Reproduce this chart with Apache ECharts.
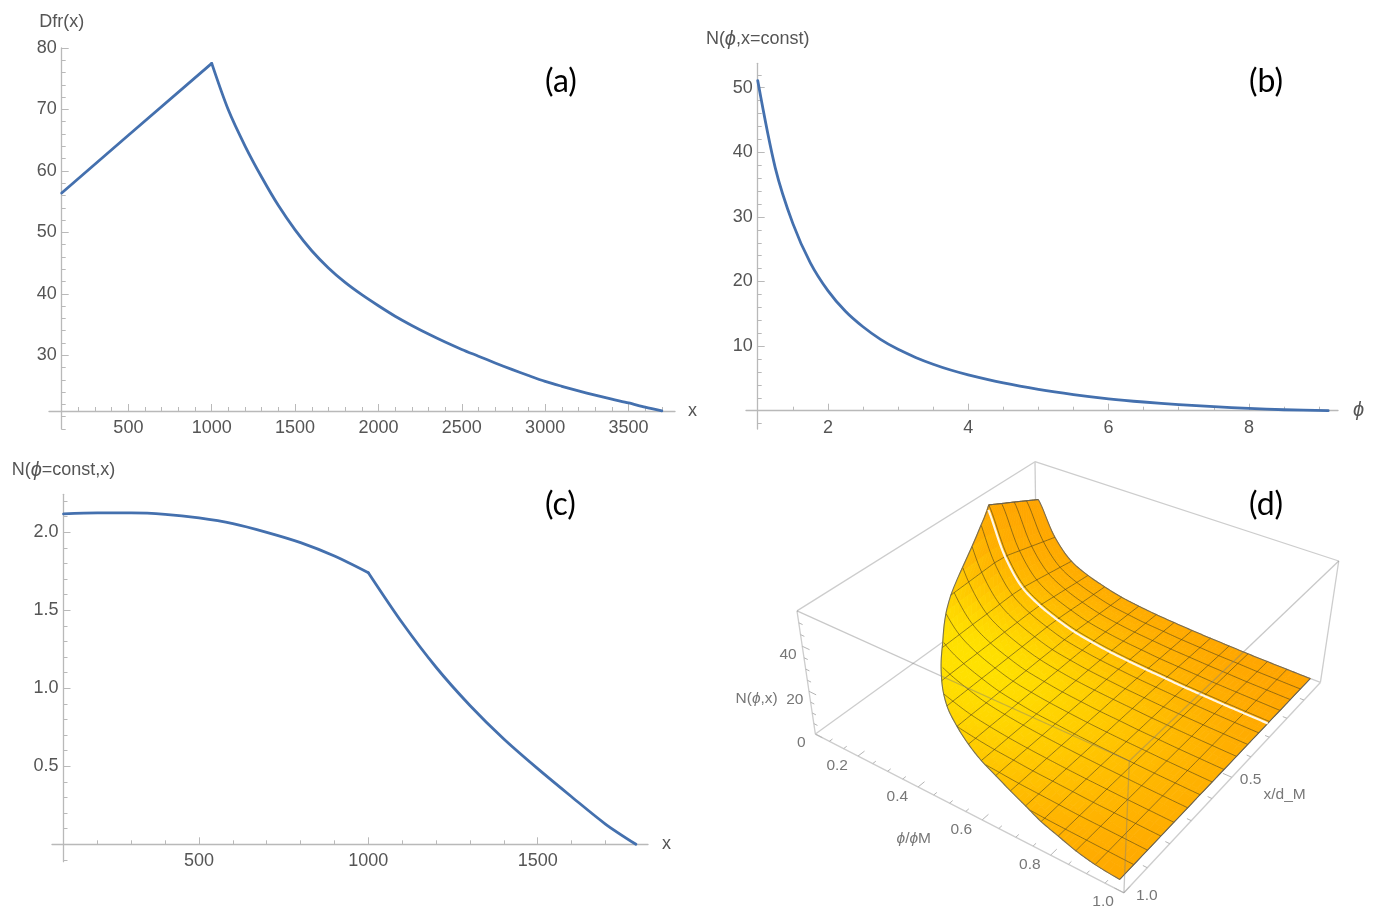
<!DOCTYPE html>
<html><head><meta charset="utf-8"><style>html,body{margin:0;padding:0;background:#fff}#c{width:1373px;height:909px}</style>
<script src="https://cdn.jsdelivr.net/npm/echarts@6/dist/echarts.min.js"></script></head>
<body><div id="c"></div>
<script>
// ---------- panel (a) ----------
const aX=[100,500,1000,1100,1200,1300,1400,1500,1600,1700,1800,1900,2000,2100,2200,2300,2400,2500,2600,2700,2800,2900,3000,3100,3200,3300,3400,3500,3600,3700];
const aY=[56.4,65.8,77.5,69.9,64.05,58.96,54.35,50.4,47.0,44.2,41.85,39.85,38.05,36.35,34.85,33.45,32.15,30.95,29.85,28.75,27.7,26.7,25.75,24.95,24.2,23.5,22.85,22.25,21.55,20.95];
const aKink=2;
const aXMajor=[500,1000,1500,2000,2500,3000,3500];
const aXMinor=[200,300,400,600,700,800,900,1100,1200,1300,1400,1600,1700,1800,1900,2100,2200,2300,2400,2600,2700,2800,2900,3100,3200,3300,3400,3600,3700];
const aYMajor=[30,40,50,60,70,80];
const aYMinor=[18,20,22,24,26,28,32,34,36,38,42,44,46,48,52,54,56,58,62,64,66,68,72,74,76,78];
// ---------- panel (b) ----------
const bX=[1,1.25,1.5,1.75,2,2.25,2.5,2.75,3,3.25,3.5,3.75,4,4.5,5,5.5,6,6.5,7,7.5,8,8.5,9.13];
const bY=[51.1,37.6,29.0,22.9,18.6,15.4,13.0,11.05,9.5,8.25,7.2,6.3,5.55,4.3,3.3,2.5,1.85,1.35,0.95,0.62,0.36,0.15,0];
const bXMajor=[2,4,6,8];
const bXMinor=[1.5,2.5,3,3.5,4.5,5,5.5,6.5,7,7.5,8.5,9];
const bYMajor=[10,20,30,40,50];
const bYMinor=[-2,2,4,6,8,12,14,16,18,22,24,26,28,32,34,36,38,42,44,46,48,52];
// ---------- panel (c) ----------
const cX=[100,200,300,400,500,600,700,800,900,1000,1100,1200,1300,1400,1500,1600,1700,1790];
const cY=[2.118,2.124,2.124,2.115,2.092,2.056,2.0,1.934,1.848,1.741,1.42,1.135,0.89,0.675,0.485,0.305,0.13,0];
const cKink=9;
const cXMajor=[500,1000,1500];
const cXMinor=[200,300,400,600,700,800,900,1100,1200,1300,1400,1600,1700];
const cYMajor=[0.5,1,1.5,2];
const cYMinor=[-0.1,0.1,0.2,0.3,0.4,0.6,0.7,0.8,0.9,1.1,1.2,1.3,1.4,1.6,1.7,1.8,1.9,2.1,2.2];
// ---------- panel (d): surface N(phi,x) ----------
const dPhi=[0.06,0.12,0.18,0.24,0.30,0.36,0.42,0.48,0.54,0.60,0.66,0.72,0.78,0.84,0.90,0.97];
const dX=[0,0.06,0.12,0.18,0.24,0.30,0.36,0.42,0.485,0.545,0.605,0.665,0.73,0.79,0.85,0.91,0.97];
const dXEdge=[0.24,0.5,0.62,0.70,0.755,0.79,0.82,0.845,0.865,0.885,0.905,0.925,0.94,0.955,0.965,0.97];
const dN=[
[37.7,40.8,43.9,46.9,50,51,50.5,50,49.5,49,48.5,47.9,47.4,46.9,46.4,45.9,45.4],
[22.2,24,25.8,27.6,29.4,30,29.7,29.4,29.1,28.8,28.5,28.2,27.9,27.6,27.3,27,26.7],
[13.3,14.4,15.5,16.6,17.6,18,17.8,17.6,17.5,17.3,17.1,16.9,16.7,16.6,16.4,16.2,16],
[9.3,10,10.8,11.5,12.3,12.5,12.4,12.3,12.1,12,11.9,11.8,11.6,11.5,11.4,11.3,11.1],
[6.7,7.2,7.7,8.3,8.8,9,8.9,8.8,8.7,8.6,8.6,8.5,8.4,8.3,8.2,8.1,8],
[4.7,5,5.4,5.8,6.2,6.3,6.2,6.2,6.1,6,6,5.9,5.9,5.8,5.7,5.7,5.6],
[3.5,3.8,4,4.3,4.6,4.7,4.7,4.6,4.6,4.5,4.5,4.4,4.4,4.3,4.3,4.2,4.2],
[2.6,2.8,3,3.2,3.4,3.5,3.5,3.4,3.4,3.4,3.3,3.3,3.3,3.2,3.2,3.2,3.1],
[2,2.2,2.3,2.5,2.6,2.7,2.7,2.6,2.6,2.6,2.6,2.5,2.5,2.5,2.5,2.4,2.4],
[1.5,1.6,1.7,1.8,2,2,2,2,1.9,1.9,1.9,1.9,1.9,1.8,1.8,1.8,1.8],
[1.1,1.2,1.3,1.4,1.5,1.5,1.5,1.5,1.5,1.4,1.4,1.4,1.4,1.4,1.4,1.4,1.3],
[0.8,0.8,0.9,1,1,1.05,1,1,1,1,1,1,1,1,1,0.9,0.9],
[0.5,0.6,0.6,0.6,0.7,0.7,0.7,0.7,0.7,0.7,0.7,0.7,0.7,0.6,0.6,0.6,0.6],
[0.3,0.3,0.3,0.4,0.4,0.4,0.4,0.4,0.4,0.4,0.4,0.4,0.4,0.4,0.4,0.4,0.4],
[0.15,0.15,0.15,0.2,0.2,0.2,0.2,0.2,0.2,0.2,0.2,0.2,0.2,0.2,0.2,0.2,0.2],
[0,0,0,0,0,0,0,0,0,0,0,0,0,0,0,0,0]];
const dWhiteX=0.25;
const dPhiMajor=[0.2,0.4,0.6,0.8,1.0], dPhiMinor=[0.1,0.15,0.25,0.3,0.35,0.45,0.5,0.55,0.65,0.7,0.75,0.85,0.9,0.95];
const dXMajor=[0.5,1.0], dXMinor=[0.1,0.2,0.3,0.4,0.6,0.7,0.8,0.9];
const dZMajor=[0,20,40], dZMinor=[5,10,15,25,30,35,45,50];
// box calibration: (phi,x,z) -> plane of the panel (hidden axes 0..1560, 0..1377)
const PHI0=0.05, ZTOP=55;
const boxCal=[
 [PHI0,0,0,755,380],[PHI0,1,0,230,850],[1,0,0,1445,690],[1,1,0,970,1330],
 [PHI0,0,55,760,30],[PHI0,1,55,185,482],[1,0,55,1482,338],[1,1,55,980,935]];

// ---- projection fit (least squares, 11 unknowns)
function fitProj(){
  const A=[],b=[];
  boxCal.forEach(([p,x,z,u,v])=>{
    const X=(p-PHI0)/(1-PHI0),Y=x,Z=z/ZTOP;
    A.push([X,Y,Z,1,0,0,0,0,-u*X,-u*Y,-u*Z]);b.push(u);
    A.push([0,0,0,0,X,Y,Z,1,-v*X,-v*Y,-v*Z]);b.push(v);
  });
  const n=11,M=[];
  for(let i=0;i<n;i++){M[i]=[];for(let j=0;j<n;j++){let s=0;A.forEach(r=>s+=r[i]*r[j]);M[i][j]=s;}
    let s=0;A.forEach((r,k)=>s+=r[i]*b[k]);M[i][n]=s;}
  for(let i=0;i<n;i++){let m=i;for(let k=i+1;k<n;k++)if(Math.abs(M[k][i])>Math.abs(M[m][i]))m=k;
    [M[i],M[m]]=[M[m],M[i]];
    for(let k=0;k<n;k++)if(k!==i){const f=M[k][i]/M[i][i];for(let j=i;j<=n;j++)M[k][j]-=f*M[i][j];}}
  return M.map((r,i)=>r[n]/r[i]);
}
const P=fitProj();
function proj(phi,x,z){
  const X=(phi-PHI0)/(1-PHI0),Y=x,Z=z/ZTOP,w=P[8]*X+P[9]*Y+P[10]*Z+1;
  return [(P[0]*X+P[1]*Y+P[2]*Z+P[3])/w,(P[4]*X+P[5]*Y+P[6]*Z+P[7])/w];
}
// ---- table lookup
function cr(a,b,c,d,t){return 0.5*(2*b+(c-a)*t+(2*a-5*b+4*c-d)*t*t+(3*b-a-3*c+d)*t*t*t);}
function colVal(i,x){
  const r=dN[i];let j=0;while(j<dX.length-2&&dX[j+1]<x)j++;
  const t=(x-dX[j])/(dX[j+1]-dX[j]);return r[j]+(r[j+1]-r[j])*t;
}
function rowCR(fn,u){
  const L=dPhi.length-1,i=Math.min(Math.floor(u),L-1),t=u-i,g=k=>fn(Math.max(0,Math.min(L,k)));
  return cr(g(i-1),g(i),g(i+1),g(i+2),t);
}
function nAt(u,x){return Math.max(0,Math.expm1(rowCR(i=>Math.log1p(colVal(i,x)),u)));}
function phiAt(u){const L=dPhi.length-1,i=Math.min(Math.floor(u),L-1);return dPhi[i]+(dPhi[i+1]-dPhi[i])*(u-i);}
function edgeAt(u){return rowCR(i=>dXEdge[i],u);}
function surf(u,x){return proj(phiAt(u),x,nAt(u,x));}

// ---- fill cells
const NU=60,NV=28,cells=[];
for(let a=0;a<NU;a++)for(let b=0;b<NV;b++)cells.push([a,b]);
function cellColor(p){
  const dx=p[0]-590,dy=p[1]-620,al=dx*0.857+dy*0.514,pe=-dx*0.514+dy*0.857;
  const bb=pe>0?380:260,g=163+62*Math.exp(-(al*al/(550*550)+pe*pe/(bb*bb)));
  return 'rgb(255,'+Math.round(g)+',0)';
}
// ---- mesh lines
const L=dPhi.length-1,meshLines=[];
for(let i=0;i<=L;i++){const e=edgeAt(i),pts=[];for(let s=0;s<=40;s++)pts.push(surf(i,e*s/40));meshLines.push(pts);}
function xLine(x){const pts=[];for(let u=0;u<=L+1e-6;u+=0.1){const v=Math.min(u,L);if(edgeAt(v)>=x-1e-6)pts.push(surf(v,x));}return pts;}
for(let j=1;j<dX.length-1;j++)meshLines.push(xLine(dX[j]));
const edgeLines=[[],[],[],[]];
for(let s=0;s<=40;s++)edgeLines[0].push(surf(0,edgeAt(0)*s/40));
for(let u=0;u<=L+1e-6;u+=0.1){edgeLines[1].push(surf(Math.min(u,L),0));edgeLines[2].push(surf(Math.min(u,L),edgeAt(Math.min(u,L))));}
for(let s=0;s<=40;s++)edgeLines[3].push(surf(L,dX[dX.length-1]*s/40));
const whiteLine=xLine(dWhiteX);

// ---- box
const c3=(p,x,z)=>[p,x,z];
const boxBack=[[c3(PHI0,0,0),c3(PHI0,1,0)],[c3(PHI0,0,0),c3(1,0,0)],[c3(PHI0,0,0),c3(PHI0,0,55)],[c3(PHI0,1,0),c3(PHI0,1,55)],[c3(1,0,0),c3(1,0,55)],[c3(PHI0,0,55),c3(PHI0,1,55)],[c3(PHI0,0,55),c3(1,0,55)],[c3(PHI0,1,0),c3(1,1,0)],[c3(1,0,0),c3(1,1,0)]];
const boxFront=[[c3(PHI0,1,55),c3(1,1,55)],[c3(1,0,55),c3(1,1,55)],[c3(1,1,0),c3(1,1,55)]];
const tickLines=[];
dPhiMajor.forEach(p=>tickLines.push([c3(p,1,0),c3(p,0.975,0)]));dPhiMinor.forEach(p=>tickLines.push([c3(p,1,0),c3(p,0.988,0)]));
dXMajor.forEach(x=>tickLines.push([c3(1,x,0),c3(0.975,x,0)]));dXMinor.forEach(x=>tickLines.push([c3(1,x,0),c3(0.988,x,0)]));
dZMajor.forEach(z=>tickLines.push([c3(PHI0,1,z),c3(PHI0+.025,1,z)]));dZMinor.forEach(z=>tickLines.push([c3(PHI0,1,z),c3(PHI0+.013,1,z)]));

const DFS=15.5;
const ital={i:{fontStyle:'italic',fontFamily:'Liberation Sans',fontSize:DFS,fill:'#777'}};
const texts=[];
dPhiMajor.forEach(p=>{const q=proj(p,1,0);texts.push([p.toFixed(1),q[0]-50,q[1]+28]);});
dXMajor.forEach(x=>{const q=proj(1,x,0);texts.push([x.toFixed(1),q[0]+(x<1?45:55),q[1]+8]);});
dZMajor.forEach(z=>{const q=proj(PHI0,1,z);texts.push([String(z),q[0]-34,q[1]+25]);});
texts.push(['N({i|ϕ},x)',88,745],['{i|ϕ}/{i|ϕ}M',465,1165],['x/d_M',1355,1035]);

const FONT='"Liberation Sans",Arial,sans-serif', AX='#b9b9b9', TXT='#555';
const LINE='#4470ae';
function panelAxes(g,o){
  const nameRich={i:{fontStyle:'italic',fontSize:20,fontFamily:FONT,color:TXT}};
  const common={type:'value',gridIndex:g,splitLine:{show:false}};
  const xs=[
   {...common,min:o.x0,max:o.x1,position:'bottom',offset:o.xOff,name:o.xName,nameLocation:'end',nameGap:o.xGap,
    nameTextStyle:{fontFamily:FONT,fontSize:18,color:TXT,rich:nameRich},
    axisLine:{show:true,onZero:false,lineStyle:{color:AX,width:1.3}},
    axisTick:{show:true,inside:true,length:7,customValues:o.xMaj,lineStyle:{color:AX}},
    axisLabel:{show:true,customValues:o.xMaj,margin:8,fontFamily:FONT,fontSize:18,color:TXT,formatter:v=>String(v),hideOverlap:false}},
   {...common,min:o.x0,max:o.x1,position:'bottom',offset:o.xOff,
    axisLine:{show:false,onZero:false},axisTick:{show:true,inside:true,length:4,customValues:o.xMin,lineStyle:{color:AX}},axisLabel:{show:false}}];
  const ys=[
   {...common,min:o.y0,max:o.y1,position:'left',offset:o.yOff,name:o.yName,nameLocation:'end',nameGap:o.yGap,
    nameTextStyle:{fontFamily:FONT,fontSize:18,color:TXT,rich:nameRich},
    axisLine:{show:true,onZero:false,lineStyle:{color:AX,width:1.3}},
    axisTick:{show:true,inside:true,length:7,customValues:o.yMaj,lineStyle:{color:AX}},
    axisLabel:{show:true,customValues:o.yMaj,margin:5,fontFamily:FONT,fontSize:18,color:TXT,formatter:o.yFmt||(v=>String(v)),hideOverlap:false}},
   {...common,min:o.y0,max:o.y1,position:'left',offset:o.yOff,
    axisLine:{show:false,onZero:false},axisTick:{show:true,inside:true,length:4,customValues:o.yMin,lineStyle:{color:AX}},axisLabel:{show:false}}];
  return {xs,ys};
}
const A1=panelAxes(0,{x0:23.8,x1:3779,y0:18,y1:80,xOff:-18,yOff:-12.7,xName:'x',xGap:13,yName:'Dfr(x)',yGap:17,xMaj:aXMajor,xMin:aXMinor,yMaj:aYMajor,yMin:aYMinor});
const A2=panelAxes(1,{x0:0.833,x1:9.27,y0:-2.83,y1:53.78,xOff:-18.3,yOff:-11.7,xName:'{i|ϕ}',xGap:15,yName:'N({i|ϕ},x=const)',yGap:14,xMaj:bXMajor,xMin:bXMinor,yMaj:bYMajor,yMin:bYMinor});
const A3=panelAxes(2,{x0:66,x1:1825.7,y0:-0.1115,y1:2.2436,xOff:-17.4,yOff:-11.5,xName:'x',xGap:14,yName:'N({i|ϕ}=const,x)',yGap:14,xMaj:cXMajor,xMin:cXMinor,yMaj:cYMajor,yMin:cYMinor,yFmt:v=>v.toFixed(1)});
const hiddenX={type:'value',gridIndex:3,min:0,max:1560,show:false};
const hiddenY={type:'value',gridIndex:3,min:0,max:1377,inverse:true,show:false};

const lineSeries=(xi,yi,X,Y,from,to,smooth)=>({type:'line',xAxisIndex:xi,yAxisIndex:yi,data:X.map((v,i)=>[v,Y[i]]).slice(from,to+1),showSymbol:false,symbol:'none',smooth,lineStyle:{color:LINE,width:2.8,cap:'round',join:'round'},clip:false,silent:true,animation:false});
const custom=(name,list,z,fn)=>({type:'custom',name,coordinateSystem:'cartesian2d',xAxisIndex:6,yAxisIndex:6,clip:false,silent:true,animation:false,z,progressive:0,
  data:list.map((_,i)=>[i,0]),encode:{x:0},renderItem:(p,api)=>fn(list[p.dataIndex],api,p.dataIndex)});
const seg=(s,api,stroke,w)=>{const a=api.coord(proj(...s[0])),b=api.coord(proj(...s[1]));return {type:'line',shape:{x1:a[0],y1:a[1],x2:b[0],y2:b[1]},style:{stroke,lineWidth:w}};};
const poly=(pts,api,stroke,w)=>({type:'polyline',shape:{points:pts.map(q=>api.coord(q))},style:{fill:null,stroke,lineWidth:w,lineJoin:'round'}});

const chart=echarts.init(document.getElementById('c'),null,{renderer:'canvas'});
const labelTitle=(t,l,tp)=>({text:t,left:l,top:tp,textStyle:{fontFamily:'Lato',fontSize:32,fontWeight:'normal',color:'#000'}});
chart.setOption({
 animation:false,backgroundColor:'#fff',
 title:[labelTitle('(a)',540,61),labelTitle('(b)',1244,61),labelTitle('(c)',540,484),labelTitle('(d)',1244,484)],
 grid:[{left:49,top:48,width:626,height:381},{left:746,top:63.3,width:592,height:365.7},{left:52,top:494.3,width:596,height:367.4},{left:720,top:450,width:650,height:459}],
 xAxis:[...A1.xs,...A2.xs,...A3.xs,hiddenX],
 yAxis:[...A1.ys,...A2.ys,...A3.ys,hiddenY],
 series:[
  lineSeries(0,0,aX,aY,0,aKink,false),lineSeries(0,0,aX,aY,aKink,aX.length-1,0.3),
  lineSeries(2,2,bX,bY,0,bX.length-1,0.3),
  lineSeries(4,4,cX,cY,0,cKink,0.3),lineSeries(4,4,cX,cY,cKink,cX.length-1,0.3),
  custom('box',boxBack,1,(s,api)=>seg(s,api,'#cdcdcd',1.3)),
  custom('ticks',tickLines,1,(s,api)=>seg(s,api,'#b5b5b5',1)),
  custom('surface',cells,2,(c,api)=>{
    const Q=(a,b)=>{const u=a/NU*L,e=edgeAt(u);return surf(u,e*b/NV);};
    const q=[Q(c[0],c[1]),Q(c[0]+1,c[1]),Q(c[0]+1,c[1]+1),Q(c[0],c[1]+1)];
    const m=[(q[0][0]+q[2][0])/2,(q[0][1]+q[2][1])/2],col=cellColor(m);
    return {type:'polygon',shape:{points:q.map(r=>api.coord(r))},style:{fill:col,stroke:col,lineWidth:0.8}};
  }),
  custom('mesh',meshLines,3,(pts,api)=>poly(pts,api,'rgba(85,70,25,0.62)',1)),
  custom('edge',edgeLines,3,(pts,api)=>poly(pts,api,'rgba(95,95,95,0.85)',1.1)),
  custom('white',[whiteLine],4,(pts,api)=>poly(pts,api,'#fff7e6',2.2)),
  custom('boxFront',boxFront,5,(s,api)=>seg(s,api,'rgba(125,125,125,0.42)',1.3)),
  custom('labels',texts,6,(t,api)=>{const a=api.coord([t[1],t[2]]);return {type:'text',x:a[0],y:a[1],style:{text:t[0],align:'center',verticalAlign:'middle',fontFamily:'Liberation Sans',fontSize:DFS,fill:'#777',rich:ital}};})
 ]
});
</script></body></html>
